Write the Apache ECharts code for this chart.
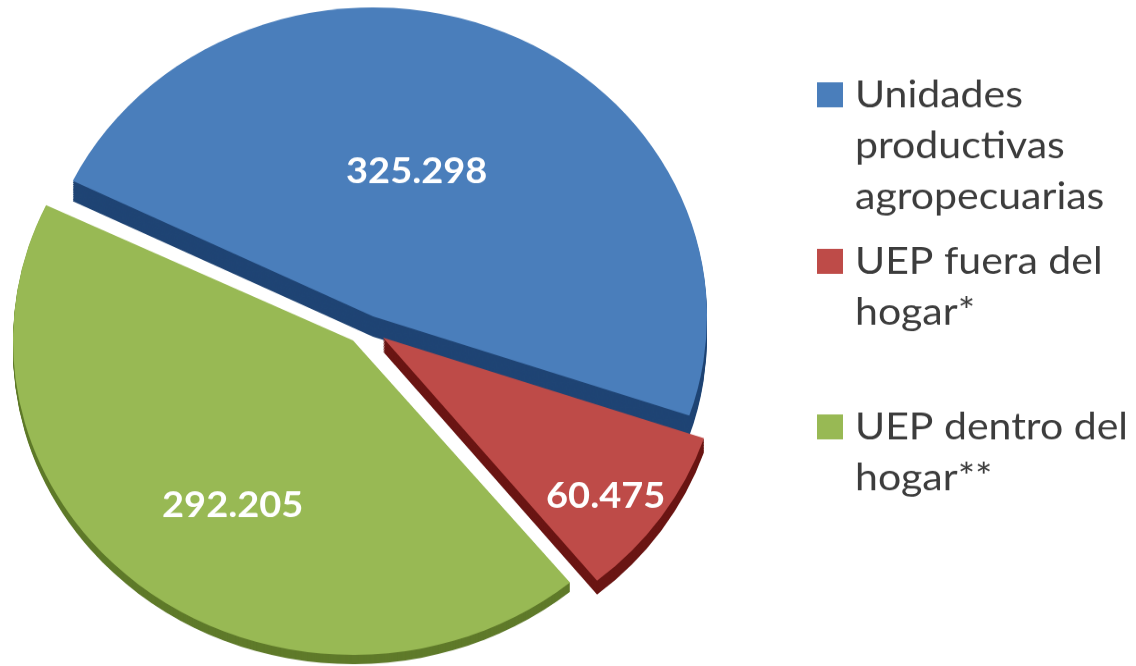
<!DOCTYPE html>
<html>
<head>
<meta charset="utf-8">
<script src="https://cdn.jsdelivr.net/npm/echarts@6/dist/echarts.min.js"></script>
<style>
  html, body { margin: 0; background: #fff; overflow: hidden; }
  /* the original pie is a tilted ellipse, so the whole chart is squashed a bit */
  #chart { width: 1136px; height: 720px; transform: scaleY(0.925); transform-origin: 0 0; }
</style>
</head>
<body>
<div id="chart"></div>
<script>
const categories = ['Unidades\nproductivas\nagropecuarias', 'UEP fuera del\nhogar*', 'UEP dentro del\nhogar**'];
const values = [325298, 60475, 292205];
const valueLabels = ['325.298', '60.475', '292.205'];
const colors = ['#4a7ebb', '#be4b48', '#98b954'];
const rimColors = ['#1f4474', '#6a1513', '#5f7a2a'];

const centers = [[373, 342], [383, 365], [353, 368]];
const radii = [334, 339, 340];
const startAngles = [154, 154, 154.5];
const rimDepth = [22, 15, 10];
const rimSteps = 10;
const labelShift = [[-21, 1], [81, 73], [-14, 42]];
const legendTops = [75, 255, 434];
const legendIcons = [
  'path://M0 14H26V41H0ZM0 0L26 0M0 165L26 165',
  'path://M0 14H26V41H0ZM0 0L26 0M0 110L26 110',
  'path://M0 14H26V41H0ZM0 0L26 0M0 110L26 110'
];
const legendHeights = [165, 110, 110];

// one pie per slice, because each slice is pulled out by its own amount
function slicePie(i, color, dy, withLabel, z) {
  return {
    type: 'pie',
    silent: true,
    animation: false,
    z: z,
    radius: radii[i],
    center: [centers[i][0], centers[i][1] + dy],
    startAngle: startAngles[i],
    clockwise: true,
    label: { show: false },
    labelLine: { show: false },
    emphasis: { disabled: true },
    labelLayout: { dx: labelShift[i][0], dy: labelShift[i][1] },
    data: categories.map((name, j) => ({
      name: name,
      value: values[j],
      itemStyle: { color: j === i ? color : 'transparent' },
      label: j === i && withLabel ? {
        show: true,
        position: 'inside',
        formatter: valueLabels[i],
        color: '#fff',
        fontFamily: 'Lato',
        fontWeight: 'bold',
        fontSize: 38,
        textBorderWidth: 0
      } : { show: false }
    }))
  };
}

const series = [];
// drawing order: blue, green, red on top
[0, 2, 1].forEach((i, n) => {
  for (let s = rimSteps; s >= 1; s--) {
    series.push(slicePie(i, rimColors[i], rimDepth[i] * s / rimSteps, false, n * 2 + 1));
  }
  series.push(slicePie(i, colors[i], 0, true, n * 2 + 2));
});

const legends = categories.map((name, i) => ({
  left: 817,
  top: legendTops[i],
  padding: 0,
  orient: 'vertical',
  selectedMode: false,
  itemWidth: 26,
  itemHeight: legendHeights[i],
  data: [{ name: name, icon: legendIcons[i], itemStyle: { color: colors[i], borderWidth: 0 } }],
  textStyle: {
    color: '#3c3c3c',
    fontFamily: 'Lato',
    fontSize: 41,
    lineHeight: 55,
    padding: [0, 0, 0, 7]
  }
}));

const chart = echarts.init(document.getElementById('chart'));
chart.setOption({
  backgroundColor: '#fff',
  legend: legends,
  series: series
});
</script>
</body>
</html>
